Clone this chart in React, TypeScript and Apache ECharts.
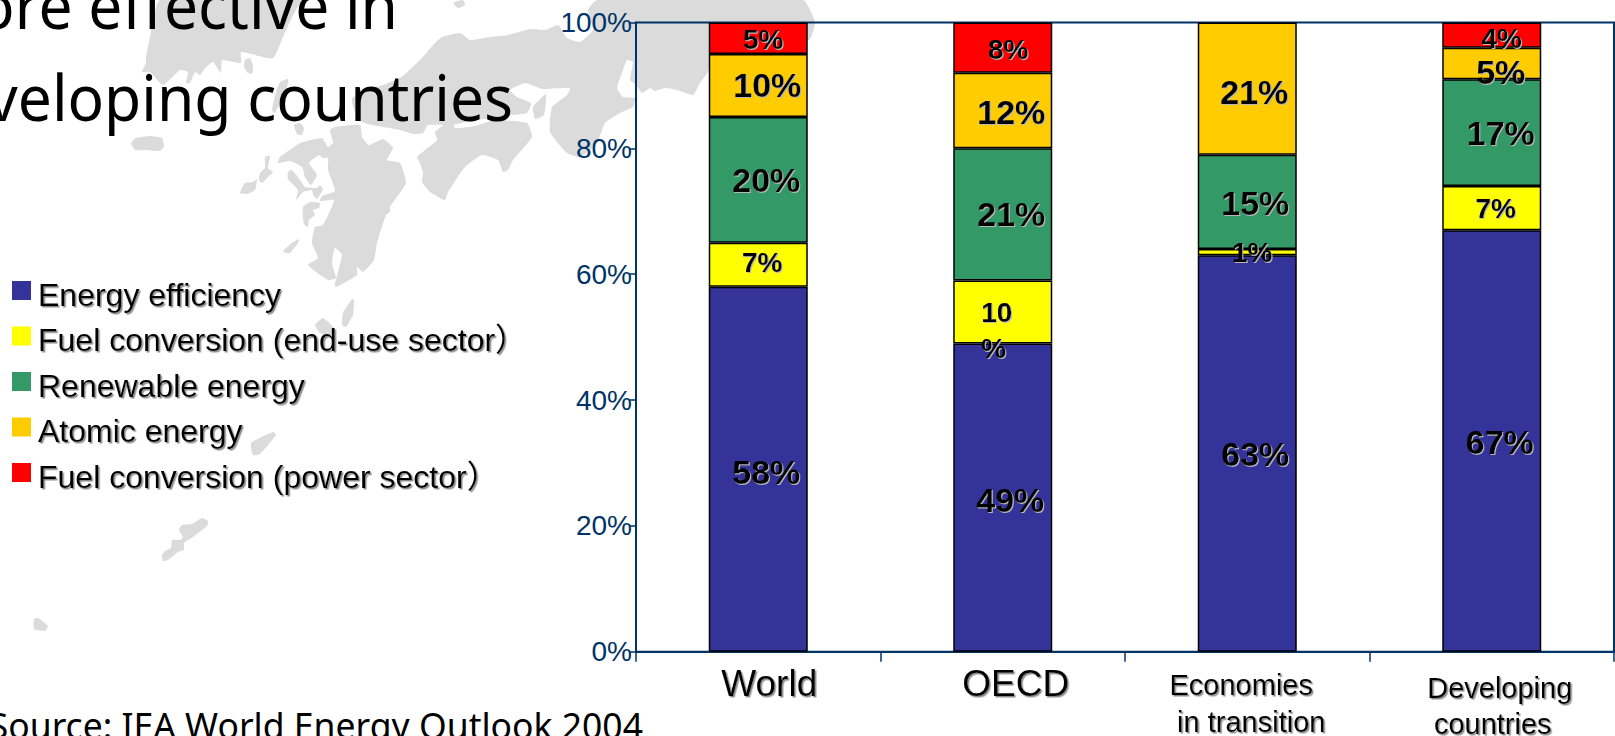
import React, { useEffect, useRef } from "react";
import * as echarts from "echarts";

const categories = ["World", "OECD", "Economies\nin transition", "Developing\ncountries"];
const seriesNames = [
  "Energy efficiency",
  "Fuel conversion (end-use sector）",
  "Renewable energy",
  "Atomic energy",
  "Fuel conversion (power sector）",
];
const efficiency = [58, 49, 63, 67];
const fuelEndUse = [7, 10, 1, 7];
const renewable = [20, 21, 15, 17];
const atomic = [10, 12, 21, 5];
const fuelPower = [5, 8, 0, 4];
const seriesValues = [efficiency, fuelEndUse, renewable, atomic, fuelPower];
const yTicks = [0, 20, 40, 60, 80, 100];

const seriesColors = ["#333399", "#FFFF00", "#339966", "#FFCC00", "#FF0000"];

// Per-cell placement of the percentage labels, in pixels from the centre of each segment.
const labelShiftX = [
  [8, 7.5, 8, 8],
  [4, -21.5, 5, 4],
  [8, 8.5, 8, 9],
  [9, 8.5, 7, 9],
  [5, 5.5, 0, 10],
];
const labelShiftY = [
  [3, 2, 0, 1],
  [-2, 19, 0, 0],
  [0, 0, 1, 0],
  [0, 1, 3, 9],
  [1, 2, 0, 3],
];
const labelSizes = [
  [34, 34, 34, 34],
  [28, 28, 28, 28],
  [34, 34, 34, 34],
  [34, 34, 34, 34],
  [28, 28, 28, 28],
];

// Legend swatch: a square in the upper part of a taller box, so the text sits slightly below it.
const LEGEND_ICON = "path://M0 0H19V19H0Z M0 27L0 27Z";

// Land masses drawn behind the chart.
const korea = [[160,0],[305,0],[297,8],[285,32],[273,58],[241,52],[241,63],[222,60],[221,73],[213,62],[205,68],[200,75],[195,72],[190,83],[186,83],[188,72],[180,70],[163,85],[150,72],[142,72],[146,63],[146,57],[150,37]];
const jeju = [[131,143],[136,138],[150,136],[162,138],[164,146],[160,151],[145,150],[135,150]];
const ulleung = [[245,60],[250,58],[253,66],[252,74],[247,72],[244,66]];
const tsushima = [[288,79],[287,88],[281,100],[275,113],[272,110],[276,92],[280,82]];
const iki = [[294,125],[300,123],[304,128],[302,135],[297,134]];
const kyushu = [[278,163],[280,157],[290,150],[300,143],[322,138],[328,147],[333,143],[330,130],[335,127],[360,125],[362,137],[369,145],[383,139],[393,148],[387,160],[400,163],[406,183],[390,207],[390,212],[386,215],[377,243],[374,260],[363,272],[357,267],[357,275],[335,287],[342,255],[335,248],[332,263],[336,278],[328,280],[308,265],[318,258],[312,243],[315,227],[323,225],[334,200],[320,201],[322,196],[335,191],[328,170],[328,158],[323,158],[319,155],[309,163],[317,175],[311,185],[305,177],[302,167],[290,161]];
const nagasaki = [[288,172],[292,170],[300,180],[305,187],[317,188],[320,185],[323,189],[317,199],[313,195],[312,190],[303,192],[296,200],[298,190],[288,179]];
const amakusa = [[303,207],[310,202],[320,203],[319,208],[313,210],[315,215],[309,220],[308,227],[304,224],[303,218]];
const koshiki = [[283,251],[292,243],[299,239],[298,243],[290,253],[287,253]];
const gotoSouth = [[240,193],[245,183],[253,182],[257,179],[255,190],[247,194]];
const gotoNorth = [[259,180],[260,173],[265,168],[265,157],[270,156],[268,168],[273,172],[268,177],[262,183]];
const shikoku = [[417,157],[437,140],[435,132],[453,119],[455,128],[475,126],[495,120],[527,123],[532,137],[513,160],[508,170],[503,172],[498,160],[482,155],[465,167],[448,192],[445,200],[440,198],[430,192],[422,182],[423,173],[420,163]];
const awaji = [[533,107],[546,94],[544,115],[535,119]];
const honshu = [[352,98],[356,115],[362,122],[372,125],[400,130],[413,134],[423,133],[428,125],[453,125],[466,122],[490,118],[512,115],[527,113],[531,103],[517,97],[510,90],[525,83],[543,89],[570,88],[567,95],[552,107],[550,132],[567,153],[580,157],[597,143],[605,123],[620,113],[633,107],[635,98],[623,97],[617,88],[622,73],[627,60],[633,62],[630,80],[636,85],[642,93],[650,88],[655,91],[665,88],[677,90],[693,95],[700,83],[708,72],[712,60],[809,40],[815,22],[803,0],[597,0],[588,10],[593,30],[580,42],[567,38],[558,25],[545,30],[530,29],[508,35],[490,37],[470,40],[460,33],[442,37],[435,43],[420,60],[400,78]];
const oki = [[453,3],[463,0],[465,5],[458,8]];
const tanegashima = [[342,325],[343,313],[352,299],[354,300],[353,315],[346,327]];
const yakushima = [[315,325],[323,318],[333,327],[332,335],[320,333]];
const amami = [[251,443],[273,432],[276,435],[260,454],[253,455]];
const okinawa = [[162,555],[165,551],[171,548],[172,540],[180,540],[183,537],[179,530],[182,525],[192,524],[202,518],[208,521],[207,526],[193,537],[184,543],[184,550],[178,552],[168,560],[163,561]];
const miyako = [[34,619],[38,618],[48,626],[45,631],[34,629]];
const landMasses = [korea, jeju, ulleung, tsushima, iki, kyushu, nagasaki, amakusa, koshiki, gotoSouth, gotoNorth, shikoku, awaji, honshu, oki, tanegashima, yakushima, amami, okinawa, miyako];

const headlineLines = ["More effective in", "developing countries"];
const sourceLine = "Source: IEA World Energy Outlook 2004";

const LABEL_FONT = "'Liberation Sans', Arial, sans-serif";
const HEAD_FONT = "'Noto Sans', sans-serif";
const NAVY = "#003366";
const softShadow = { textShadowColor: "#b8b8b8", textShadowOffsetX: 1, textShadowOffsetY: 1, textShadowBlur: 1 };
const deepShadow = { textShadowColor: "#8a8a8a", textShadowOffsetX: 1.5, textShadowOffsetY: 1.5, textShadowBlur: 1 };

function buildOption() {
  const base = { fontFamily: LABEL_FONT, color: "#000", ...deepShadow };
  const rich: Record<string, any> = {
    world: { ...base, fontSize: 37, lineHeight: 40, padding: [0, 0, 0, 22] },
    oecd: { ...base, fontSize: 37, lineHeight: 40, padding: [0, 0, 0, 26] },
    eco1: { ...base, fontSize: 29, lineHeight: 42, padding: [0, 12, 0, 0] },
    eco2: { ...base, fontSize: 29, lineHeight: 33, padding: [0, 0, 0, 8] },
    dev1: { ...base, fontSize: 29, lineHeight: 48, padding: [0, 0, 0, 16] },
    dev2: { ...base, fontSize: 29, lineHeight: 24, padding: [0, 0, 0, 2] },
  };
  const richKeys = [["world"], ["oecd"], ["eco1", "eco2"], ["dev1", "dev2"]];

  return {
    animation: false,
    backgroundColor: "#ffffff",
    textStyle: { fontFamily: LABEL_FONT },
    grid: {
      left: 636,
      top: 22.5,
      width: 978,
      height: 629.2,
      containLabel: false,
      outerBoundsMode: "none",
      show: true,
      backgroundColor: "transparent",
      borderColor: NAVY,
      borderWidth: 2,
      z: 0,
    },
    legend: {
      orient: "vertical",
      left: 12,
      top: 276.5,
      icon: LEGEND_ICON,
      itemWidth: 19,
      itemHeight: 27,
      itemGap: 9.5,
      padding: 0,
      selectedMode: false,
      itemStyle: { borderWidth: 0 },
      textStyle: {
        fontFamily: "'Liberation Sans', 'Noto Sans CJK JP', sans-serif",
        fontSize: 32,
        color: "#000",
        lineHeight: 36,
        padding: [0, 0, 0, 2],
        ...deepShadow,
      },
      data: seriesNames,
    },
    xAxis: {
      type: "category",
      data: categories,
      axisLine: { lineStyle: { color: NAVY, width: 2 } },
      axisTick: { show: true, length: 10, alignWithLabel: false, lineStyle: { color: NAVY, width: 1.5 } },
      axisLabel: {
        margin: 12,
        interval: 0,
        formatter: (value: string) => {
          const idx = categories.indexOf(value);
          return value
            .split("\n")
            .map((line, i) => `{${richKeys[idx][i]}|${line}}`)
            .join("\n");
        },
        rich,
      },
    },
    yAxis: {
      type: "value",
      min: yTicks[0],
      max: yTicks[yTicks.length - 1],
      interval: 20,
      splitLine: { show: false },
      axisLine: { show: true, lineStyle: { color: NAVY, width: 2 } },
      axisTick: { show: true, length: 6, lineStyle: { color: NAVY, width: 1.5 } },
      axisLabel: {
        formatter: "{value}%",
        margin: 4,
        color: NAVY,
        fontSize: 28,
        fontFamily: LABEL_FONT,
        padding: [9, 0, 0, 0],
      },
    },
    series: seriesNames.map((name, s) => ({
      name,
      type: "bar",
      stack: "total",
      barWidth: 99,
      z: 2,
      itemStyle: { color: seriesColors[s], borderColor: "#000", borderWidth: 1.5 },
      data: seriesValues[s].map((value, c) => ({
        value,
        itemStyle: value === 0 ? { borderWidth: 0 } : undefined,
        label: {
          show: value > 0,
          position: "inside",
          offset: [labelShiftX[s][c], labelShiftY[s][c]],
          fontSize: labelSizes[s][c],
          fontWeight: "bold",
          fontFamily: LABEL_FONT,
          color: "#000",
          lineHeight: 36,
          align: s === 1 && c === 1 ? "left" : "center",
          formatter: s === 1 && c === 1 ? "10\n%" : `${value}%`,
          ...softShadow,
        },
      })),
    })),
    graphic: {
      elements: [
        ...landMasses.map((points) => ({
          type: "polygon",
          z: -5,
          silent: true,
          shape: { points, smooth: 0.15 },
          style: { fill: "#DBDBDB" },
        })),
        {
          type: "text",
          z: 1,
          x: 398,
          y: 4,
          scaleX: 0.945,
          silent: true,
          style: { text: headlineLines[0], fontFamily: HEAD_FONT, fontSize: 64, fill: "#000", align: "right", verticalAlign: "middle" },
        },
        {
          type: "text",
          z: 1,
          x: 513,
          y: 96,
          scaleX: 0.945,
          silent: true,
          style: { text: headlineLines[1], fontFamily: HEAD_FONT, fontSize: 64, fill: "#000", align: "right", verticalAlign: "middle" },
        },
        {
          type: "text",
          z: 1,
          x: 643,
          y: 725,
          scaleX: 0.96,
          silent: true,
          style: { text: sourceLine, fontFamily: HEAD_FONT, fontSize: 37, fill: "#000", align: "right", verticalAlign: "middle" },
        },
      ],
    },
  };
}

export default function App() {
  const ref = useRef<HTMLDivElement>(null);
  useEffect(() => {
    const chart = echarts.init(ref.current!, undefined, { renderer: "svg" });
    chart.setOption(buildOption() as any);
    return () => chart.dispose();
  }, []);
  return (
    <div
      ref={ref}
      style={{ position: "fixed", left: 0, top: 0, width: 1615, height: 736, overflow: "hidden", background: "#fff" }}
    />
  );
}
